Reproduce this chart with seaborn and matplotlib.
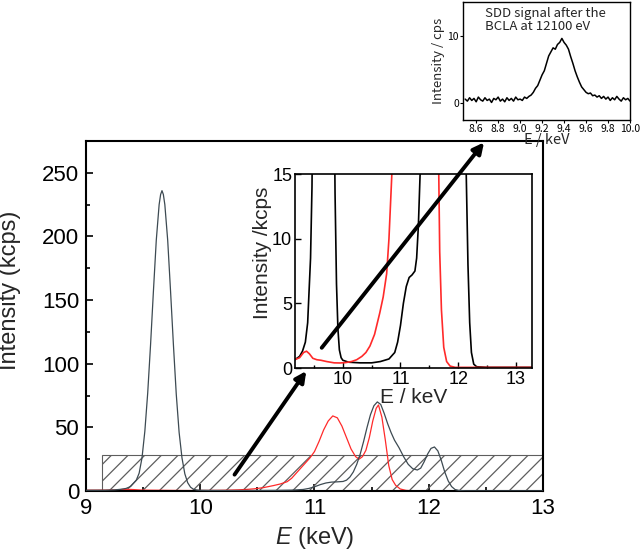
import numpy as np
import matplotlib
matplotlib.use("Agg")
import matplotlib.pyplot as plt
import seaborn as sns
from matplotlib.patches import Rectangle, FancyArrowPatch
from matplotlib.ticker import MultipleLocator, FormatStrFormatter

# grey/black spectrum (E in keV, intensity in kcps)
energy_a = [9.00, 9.10, 9.17, 9.25, 9.30, 9.35, 9.39, 9.415, 9.44, 9.465,
            9.49, 9.515, 9.54, 9.565, 9.59, 9.615, 9.64, 9.653, 9.665, 9.677,
            9.69, 9.715, 9.74, 9.765, 9.79, 9.815, 9.84, 9.865, 9.89, 9.915,
            9.94, 9.97, 10.00, 10.10, 10.30, 10.50, 10.65, 10.80, 10.90, 10.95,
            11.00, 11.05, 11.10, 11.15, 11.20, 11.25, 11.28, 11.31, 11.34, 11.37,
            11.40, 11.43, 11.46, 11.49, 11.52, 11.55, 11.58, 11.61, 11.64, 11.67,
            11.70, 11.74, 11.78, 11.82, 11.86, 11.90, 11.93, 11.96, 11.99, 12.02,
            12.05, 12.08, 12.11, 12.14, 12.17, 12.20, 12.23, 12.27, 12.32, 12.50,
            13.00, 13.30]
intensity_a = [0.6, 0.6, 0.65, 0.9, 1.3, 2.0, 3.5, 6.0, 8.5, 14.0,
               26, 47, 77, 115, 157, 197, 225, 233, 236, 233,
               225, 197, 157, 115, 76, 46, 26, 13.5, 6.5, 3.0,
               1.4, 0.8, 0.6, 0.45, 0.4, 0.4, 0.5, 0.7, 1.2, 2.0,
               3.3, 5.0, 6.3, 7.0, 7.2, 7.5, 8.5, 11, 15, 21,
               29, 39, 50, 60, 67, 70, 68, 61, 53, 46,
               40, 34, 27, 21, 17.5, 16.5, 18, 23, 29, 33.5,
               34.6, 31.5, 24, 15, 8, 3.5, 1.2, 0.3, 0.1, 0.05,
               0.05, 0.05]

# red spectrum
energy_b = [9.00, 9.17, 9.25, 9.32, 9.37, 9.42, 9.48, 9.55, 9.62, 9.72,
            9.85, 9.95, 10.05, 10.15, 10.24, 10.33, 10.40, 10.47, 10.55, 10.64,
            10.70, 10.76, 10.80, 10.84, 10.88, 10.92, 10.96, 11.00, 11.04, 11.08,
            11.12, 11.16, 11.20, 11.24, 11.28, 11.32, 11.36, 11.39, 11.42, 11.45,
            11.48, 11.51, 11.54, 11.56, 11.59, 11.62, 11.65, 11.68, 11.71, 11.75,
            11.80, 11.86, 11.95, 13.30]
intensity_b = [0.6, 0.65, 0.8, 1.2, 1.3, 1.1, 0.75, 0.64, 0.6, 0.5,
               0.4, 0.39, 0.42, 0.5, 0.64, 0.9, 1.2, 1.7, 2.6, 4.25,
               5.5, 7.3, 10, 14, 18, 22, 26, 31, 39, 48,
               55, 59, 57.5, 51, 42, 33, 27, 25, 27, 32,
               42, 55, 65, 67.6, 58, 40, 20, 9, 4.5, 1.6,
               0.5, 0.15, 0.05, 0.05]

# SDD signal after the BCLA (cps)
sdd_energy = np.round(np.arange(8.50, 10.001, 0.02), 2)
sdd_counts = [0.6, 0.3, 0.8, 0.4, 0.7, 0.2, 0.9, 0.5, 0.3, 0.8,
              0.4, 0.6, 0.1, 0.7, 0.5, 0.9, 0.3, 0.6, 0.2, 0.8,
              0.4, 0.7, 0.3, 0.9, 0.5, 0.6, 0.4, 0.9, 0.7, 1.0,
              1.2, 1.6, 2.2, 2.6, 3.4, 4.2, 4.8, 5.9, 7.0, 7.6,
              8.2, 8.0, 8.7, 9.0, 9.6, 9.0, 8.6, 8.0, 6.9, 5.9,
              4.8, 3.9, 3.1, 2.4, 2.0, 1.6, 1.4, 1.5, 1.1, 1.2,
              0.9, 1.1, 0.7, 1.0, 0.6, 0.9, 0.4, 0.8, 0.5, 1.0,
              0.6, 0.3, 0.8, 0.5, 0.7, 0.3]

main_xticks = [9, 10, 11, 12, 13]
main_yticks = [0, 50, 100, 150, 200, 250]
inset_xticks = [10, 11, 12, 13]
inset_yticks = [0, 5, 10, 15]
sdd_xticks = [8.6, 8.8, 9.0, 9.2, 9.4, 9.6, 9.8, 10.0]
sdd_yticks = [0, 10]

# band marked in the main panel (zoomed region)
band_x = (9.14, 13.0)
band_y = 28.5

sns.set_theme(style="ticks")
plt.rcParams['font.family'] = ['Liberation Sans', 'DejaVu Sans']
plt.rcParams['mathtext.fontset'] = 'custom'
plt.rcParams['mathtext.it'] = 'Liberation Sans:italic'
plt.rcParams['mathtext.rm'] = 'Liberation Sans'
plt.rcParams['hatch.linewidth'] = 0.9

jp = ['Noto Sans CJK JP', 'DejaVu Sans']

fig = plt.figure(figsize=(6.4, 5.52), dpi=100)

# ---- main panel
ax = fig.add_axes([0.1344, 0.1105, 0.714, 0.634])
ax.add_patch(Rectangle((band_x[0], 0), band_x[1] - band_x[0], band_y,
                       fill=False, hatch='//', edgecolor='#5e5e5e', lw=0.8, zorder=1))
sns.lineplot(x=energy_a, y=intensity_a, ax=ax, color='#3d4a52', lw=0.9, zorder=3)
sns.lineplot(x=energy_b, y=intensity_b, ax=ax, color='#ff2a2a', lw=0.9, zorder=2)
ax.set_xlim(9, 13)
ax.set_ylim(0, 275)
ax.set_xticks(main_xticks)
ax.set_yticks(main_yticks)
ax.xaxis.set_minor_locator(MultipleLocator(0.5))
ax.yaxis.set_minor_locator(MultipleLocator(25))
ax.tick_params(which='both', direction='in', top=False, right=False,
               labelsize=16, width=1.2, colors='black')
ax.tick_params(which='major', length=5, pad=5)
ax.tick_params(which='minor', length=3)
for s in ax.spines.values():
    s.set_linewidth(1.5)
    s.set_color('black')
ax.set_xlabel(r'$\mathit{E}$ (keV)', fontsize=17, labelpad=4)
ax.set_ylabel('Intensity (kcps)', fontsize=17)
ax.yaxis.set_label_coords(-0.142, 0.574)

# ---- zoomed inset
ins = fig.add_axes([0.4609, 0.3333, 0.3703, 0.3514])
ins.set_facecolor('white')
sns.lineplot(x=energy_a, y=intensity_a, ax=ins, color='black', lw=1.2)
sns.lineplot(x=energy_b, y=intensity_b, ax=ins, color='#ff2a2a', lw=1.2)
ins.set_xlim(9.17, 13.28)
ins.set_ylim(0, 15)
ins.set_xticks(inset_xticks)
ins.set_yticks(inset_yticks)
ins.xaxis.set_minor_locator(MultipleLocator(0.5))
ins.tick_params(which='both', direction='in', top=False, right=False,
                labelsize=13, width=1, colors='black', pad=2)
ins.tick_params(which='major', length=4)
ins.tick_params(which='minor', length=2)
for s in ins.spines.values():
    s.set_linewidth(1.2)
    s.set_color('black')
ins.set_xlabel('E / keV', fontsize=15, labelpad=0)
ins.set_ylabel('Intensity /kcps', fontsize=15)
ins.yaxis.set_label_coords(-0.097, 0.593)

# ---- SDD signal panel
top = fig.add_axes([0.7234, 0.7826, 0.261, 0.2138])
sns.lineplot(x=sdd_energy, y=sdd_counts, ax=top, color='black', lw=1.1)
top.set_xlim(8.48, 10.0)
top.set_ylim(-2.5, 15)
top.set_xticks(sdd_xticks)
top.set_yticks(sdd_yticks)
top.xaxis.set_major_formatter(FormatStrFormatter('%.1f'))
top.tick_params(direction='out', length=2, width=0.8, labelsize=7.5, pad=1,
                colors='black')
for lab in top.get_xticklabels() + top.get_yticklabels():
    lab.set_family(jp)
for s in top.spines.values():
    s.set_linewidth(1.0)
    s.set_color('black')
top.set_xlabel('E / keV', fontsize=10.5, labelpad=-1, family=jp)
top.set_ylabel('Intensity / cps', fontsize=9.5, labelpad=2, family=jp)
top.text(0.13, 0.96, 'SDD signal after the\nBCLA at 12100 eV', transform=top.transAxes,
         ha='left', va='top', fontsize=9.5, linespacing=1.05, family=jp)

# ---- arrows linking the panels
for start, end in [((0.364, 0.136), (0.481, 0.332)), ((0.500, 0.366), (0.759, 0.746))]:
    fig.add_artist(FancyArrowPatch(start, end, transform=fig.transFigure,
                                   arrowstyle='-|>', mutation_scale=16, lw=2.8,
                                   color='black', zorder=10))

fig.savefig('out.png', dpi=100)
